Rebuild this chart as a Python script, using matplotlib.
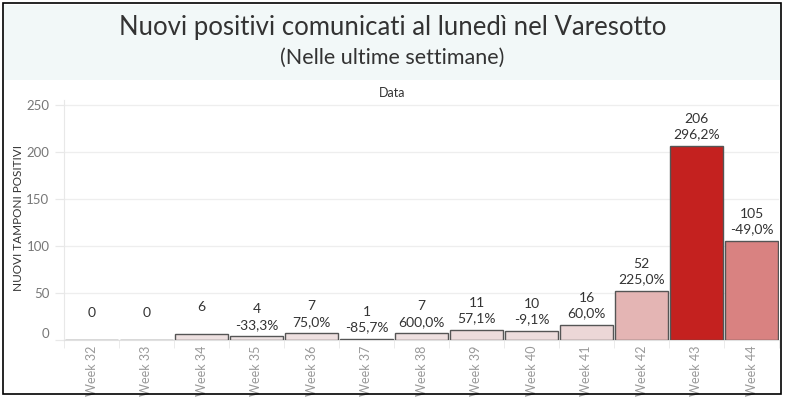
import numpy as np
import matplotlib.pyplot as plt
from matplotlib.colors import LinearSegmentedColormap
from matplotlib.patches import Rectangle

plt.rcParams['font.family'] = ['Lato', 'DejaVu Sans']

weeks = ['Week 32', 'Week 33', 'Week 34', 'Week 35', 'Week 36', 'Week 37', 'Week 38',
         'Week 39', 'Week 40', 'Week 41', 'Week 42', 'Week 43', 'Week 44']
positivi = [0, 0, 6, 4, 7, 1, 7, 11, 10, 16, 52, 206, 105]
variazione = [None, None, None, '-33,3%', '75,0%', '-85,7%', '600,0%', '57,1%',
              '-9,1%', '60,0%', '225,0%', '296,2%', '-49,0%']

fig = plt.figure(figsize=(7.85, 3.98), dpi=100)

# title band and outer frame
fig.patches.append(Rectangle((4/785, 1-80/398), 777/785, 75/398, transform=fig.transFigure,
                             facecolor='#f2f8f8', edgecolor='none', zorder=0))
fig.patches.append(Rectangle((3/785, 4/398), 778/785, 391/398, transform=fig.transFigure,
                             facecolor='none', edgecolor='black', linewidth=1.2, zorder=5))
fig.text(0.5, 1-28/398, 'Nuovi positivi comunicati al lunedì nel Varesotto',
         ha='center', va='center', fontsize=18.5, color='#333333')
fig.text(0.5, 1-58/398, '(Nelle ultime settimane)', ha='center', va='center',
         fontsize=15.5, color='#333333')
fig.text(0.5, 1-93/398, 'Data', ha='center', va='center', fontsize=9, color='#333333')
fig.text(19/785, 1-218/398, 'NUOVI TAMPONI POSITIVI', rotation=90, ha='center', va='center',
         fontsize=8.5, color='#333333')

ax = fig.add_axes([64/785, 1-340/398, 715/785, 240/398])
cmap = LinearSegmentedColormap.from_list('rossi', ['#efe6e6', '#c4211f'])
vals = np.array(positivi)
colors = cmap(vals / vals.max())
x = np.arange(len(weeks))
ax.bar(x, vals, width=0.95, color=colors, edgecolor='#555555', linewidth=1, zorder=3)

for i, v in enumerate(positivi):
    # empty second line keeps the value on the upper row like the original
    txt = f'{v}\n ' if variazione[i] is None else f'{v}\n{variazione[i]}'
    ax.annotate(txt, (i, v), xytext=(0, 4), textcoords='offset points',
                ha='center', va='bottom', fontsize=10, color='#333333', linespacing=1.35)

ax.set_xlim(-0.5, len(weeks) - 0.5)
ax.set_ylim(0, 255)
ax.set_yticks([0, 50, 100, 150, 200, 250])
ax.grid(axis='y', color='#eeeeee', linewidth=0.9, zorder=0)
ax.tick_params(axis='y', colors='#e8e8e8', labelcolor='#777777', labelsize=9.5,
               length=6.5, width=0.9, pad=4)
for lab in ax.get_yticklabels():
    if lab.get_text() == '0':
        lab.set_va('bottom')

ax.set_xticks(x)
ax.set_xticklabels(weeks, rotation=90, color='#999999', fontsize=9)
ax.set_xticks(np.arange(len(weeks) + 1) - 0.5, minor=True)
ax.tick_params(axis='x', which='major', length=0, pad=4)
ax.tick_params(axis='x', which='minor', length=6, color='#e8e8e8')

for s in ['top', 'right']:
    ax.spines[s].set_visible(False)
ax.spines['left'].set_color('#e8e8e8')
ax.spines['bottom'].set_color('#e0e0e0')

plt.savefig('out.png', dpi=100)
